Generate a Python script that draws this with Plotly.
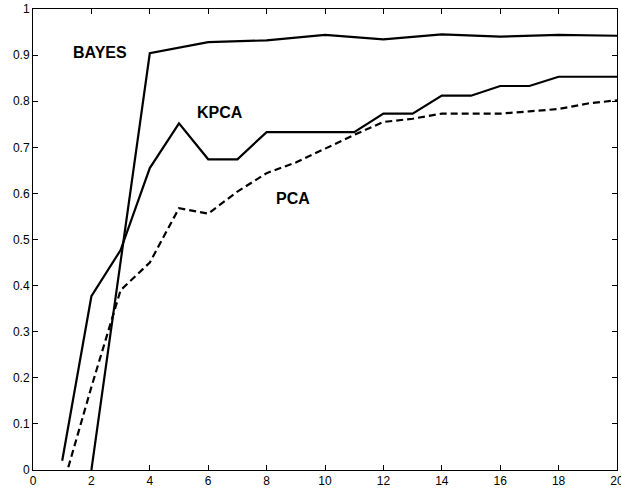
import plotly.graph_objects as go

# Data
bayes_x = [2, 4, 6, 8, 10, 12, 14, 16, 18, 20]
bayes_y = [0.0, 0.904, 0.928, 0.932, 0.944, 0.934, 0.945, 0.940, 0.944, 0.942]

kpca_x = [1, 2, 3, 4, 5, 6, 7, 8, 9, 10, 11, 12, 13, 14, 15, 16, 17, 18, 19, 20]
kpca_y = [0.02, 0.377, 0.477, 0.655, 0.752, 0.674, 0.674, 0.733, 0.733, 0.733,
          0.733, 0.773, 0.773, 0.812, 0.812, 0.833, 0.833, 0.853, 0.853, 0.853]

pca_x = [1, 2, 3, 4, 5, 6, 7, 8, 9, 10, 11, 12, 13, 14, 15, 16, 17, 18, 19, 20]
pca_y = [-0.04, 0.18, 0.39, 0.45, 0.568, 0.556, 0.604, 0.644, 0.667, 0.697,
         0.727, 0.755, 0.762, 0.773, 0.773, 0.773, 0.778, 0.783, 0.795, 0.802]

x_ticks = [0, 2, 4, 6, 8, 10, 12, 14, 16, 18, 20]
y_ticks = [0, 0.1, 0.2, 0.3, 0.4, 0.5, 0.6, 0.7, 0.8, 0.9, 1]
y_tick_labels = ["0", "0.1", "0.2", "0.3", "0.4", "0.5", "0.6", "0.7", "0.8", "0.9", "1"]

labels = ["BAYES", "KPCA", "PCA"]
label_x = [2.31, 6.39, 8.89]
label_y = [0.905, 0.775, 0.59]

fig = go.Figure()
fig.add_trace(go.Scatter(x=bayes_x, y=bayes_y, mode="lines",
                         line=dict(color="black", width=2.2), name="BAYES"))
fig.add_trace(go.Scatter(x=kpca_x, y=kpca_y, mode="lines",
                         line=dict(color="black", width=2.2), name="KPCA"))
fig.add_trace(go.Scatter(x=pca_x, y=pca_y, mode="lines",
                         line=dict(color="black", width=2.2, dash="7px,4px"), name="PCA"))

for t, xx, yy in zip(labels, label_x, label_y):
    fig.add_annotation(x=xx, y=yy, text="<b>%s</b>" % t, showarrow=False,
                       font=dict(family="Liberation Sans, Arial", size=16, color="black"))

axis_common = dict(showgrid=False, zeroline=False, showline=True, linecolor="black",
                   linewidth=1, mirror="ticks", ticks="inside", ticklen=5,
                   tickcolor="black", tickwidth=1, automargin=False,
                   ticklabeloverflow="allow",
                   tickfont=dict(family="Liberation Sans, Arial", size=12, color="black"))

fig.update_xaxes(range=[0, 20], tickvals=x_ticks, ticktext=[str(v) for v in x_ticks],
                 **axis_common)
fig.update_yaxes(range=[0, 1], tickvals=y_ticks, ticktext=y_tick_labels, **axis_common)

fig.update_layout(width=621, height=491, showlegend=False,
                  plot_bgcolor="white", paper_bgcolor="white",
                  margin=dict(l=33, r=4, t=9, b=21, autoexpand=False))

fig.write_html("out.html", config={"displayModeBar": False},
               post_script="document.body.style.margin='0';document.body.style.overflow='hidden';")
